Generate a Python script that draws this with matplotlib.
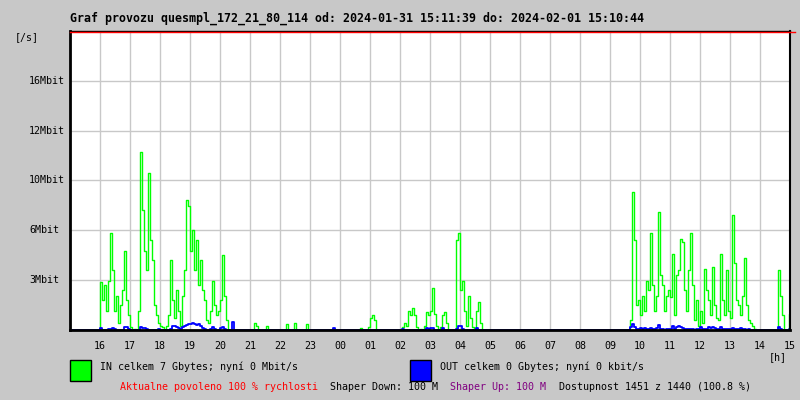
import matplotlib
matplotlib.use('Agg')
import matplotlib.pyplot as plt
from matplotlib import transforms
from matplotlib.patches import Rectangle

# --- data: IN/OUT traffic [Mbit/s], 4 minute samples, bursts of activity
STEP = 4 / 60.0

in_bursts = [
    ("16:00", [3.2, 2.0, 3.0, 1.3, 3.3, 6.5, 4.0, 1.3, 2.3, 0.5, 1.7, 2.7, 5.3, 2.0, 1.0, 0.2,
               0, 0.1, 0, 1.3, 11.9, 8.0, 5.3, 4.0, 10.5, 6.0, 4.7, 1.7, 1.0, 0.5, 0.3, 0.2,
               0, 0.3, 1.0, 4.7, 2.0, 0.8, 2.7, 1.3, 0.3, 2.3, 4.0, 8.7, 8.3, 5.3, 6.7, 4.0,
               6.0, 3.0, 4.7, 2.7, 2.0, 0.7, 0.5, 1.3, 3.3, 1.7, 1.0, 1.3, 2.0, 5.0, 2.3, 0.7, 0]),
    ("21:08", [0.45, 0.3, 0]),
    ("21:32", [0.3, 0]),
    ("22:12", [0.4, 0]),
    ("22:28", [0.45, 0]),
    ("22:52", [0.4, 0]),
    ("00:40", [0.15, 0]),
    ("00:56", [0.2, 0.8, 1.0, 0.65, 0]),
    ("02:00", [0, 0.2, 0.5, 0.3, 1.3, 1.0, 1.5, 1.0, 0.2, 0, 0.1, 0, 0.3, 1.2, 1.0, 1.3,
               2.8, 1.1, 0.3, 0, 0.2, 1.0, 1.2, 0.5, 0, 0, 0, 0, 6.0, 6.5, 2.7, 3.3,
               1.3, 0.3, 2.3, 0.8, 0.2, 0, 1.3, 1.9, 0.5, 0]),
    ("09:40", [0.7, 9.2, 6.0, 1.7, 2.0, 1.0, 2.3, 1.3, 3.3, 2.7, 6.5, 3.0, 1.3, 2.3, 7.9, 3.7,
               3.0, 1.3, 2.3, 2.7, 2.2, 5.1, 1.0, 3.7, 4.0, 6.1, 5.9, 2.7, 1.3, 4.0, 6.5, 3.0,
               0.7, 2.0, 0.3, 1.3, 0.5, 4.1, 2.7, 2.0, 1.0, 4.2, 1.7, 0.8, 0.7, 5.1, 2.0, 1.0,
               4.0, 1.3, 0.8, 7.7, 4.5, 2.0, 1.7, 1.0, 2.3, 4.8, 1.7, 0.7, 0.5, 0.3, 0.1, 0]),
    ("14:32", [0, 4.0, 2.3, 1.0, 0]),
    ("14:58", [1.1, 0]),
]

out_bursts = [
    ("16:00", [0.15, 0, 0, 0, 0.1, 0.1, 0.15, 0.1, 0, 0, 0, 0, 0.2, 0.2, 0.1, 0,
               0, 0, 0, 0, 0.2, 0.15, 0.15, 0.1, 0, 0, 0, 0, 0, 0.05, 0, 0,
               0, 0, 0, 0.1, 0.3, 0.3, 0.2, 0.15, 0.1, 0.2, 0.3, 0.35, 0.4, 0.4, 0.45, 0.4,
               0.35, 0.4, 0.3, 0.15, 0.05, 0, 0, 0.1, 0.2, 0.1, 0, 0, 0.15, 0.2, 0.1, 0,
               0, 0, 0.55, 0]),
    ("23:46", [0.15, 0]),
    ("02:00", [0, 0.1, 0, 0, 0, 0, 0, 0, 0, 0, 0, 0, 0, 0.15, 0.1, 0.15, 0.15, 0, 0, 0,
               0, 0.15, 0, 0, 0, 0, 0, 0, 0.1, 0.3, 0.3, 0.1, 0, 0, 0, 0, 0, 0, 0.15, 0, 0]),
    ("09:40", [0.2, 0.4, 0.2, 0.1, 0.1, 0.15, 0.1, 0.15, 0.1, 0.1, 0.15, 0.1, 0.1, 0.15, 0.35, 0.1,
               0.1, 0, 0.05, 0.1, 0.1, 0.25, 0.1, 0.2, 0.25, 0.2, 0.15, 0.1, 0.05, 0.1, 0.1, 0.05,
               0, 0.05, 0.05, 0.2, 0.1, 0.05, 0.1, 0.2, 0.15, 0.2, 0.15, 0.05, 0.1, 0.2, 0.1, 0.1,
               0.05, 0.05, 0.1, 0.15, 0.1, 0.05, 0.05, 0.15, 0.1, 0.05, 0, 0.05, 0, 0]),
    ("14:32", [0, 0.2, 0.1, 0]),
    ("14:58", [0.1, 0.1, 0.1]),
]

hour_labels = ['16', '17', '18', '19', '20', '21', '22', '23', '00', '01', '02', '03',
               '04', '05', '06', '07', '08', '09', '10', '11', '12', '13', '14', '15']
y_grid = [10 / 3, 20 / 3, 10, 40 / 3, 50 / 3]
y_labels = ['3Mbit', '6Mbit', '10Mbit', '12Mbit', '16Mbit']

title = 'Graf provozu quesmpl_172_21_80_114 od: 2024-01-31 15:11:39 do: 2024-02-01 15:10:44'
in_text = 'IN celkem 7 Gbytes; nyní 0 Mbit/s'
out_text = 'OUT celkem 0 Gbytes; nyní 0 kbit/s'


def to_hours(s):
    h, m = s.split(':')
    v = int(h) + int(m) / 60.0
    return v + 24 if v < 15.19 else v


def series(bursts):
    t, v = [15.0], [0.0]
    for start, vals in bursts:
        t0 = to_hours(start)
        t += [t0 + i * STEP for i in range(len(vals))]
        v += vals
    t.append(39.3)
    v.append(v[-1])
    return t, v


BG = '#c8c8c8'
plt.rcParams['font.family'] = ['DejaVu Sans Mono']

fig = plt.figure(figsize=(8, 4), dpi=100, facecolor=BG)
ax = fig.add_axes([70 / 800, 1 - 330 / 400, 720 / 800, 299 / 400])
ax.set_facecolor('white')

t_in, v_in = series(in_bursts)
t_out, v_out = series(out_bursts)
ax.plot(t_in, v_in, drawstyle='steps-post', color='#00ff00', lw=1.0, zorder=3)
ax.plot(t_out, v_out, drawstyle='steps-post', color='#0000ff', lw=1.3, zorder=4)

ax.set_xlim(15, 39)
ax.set_ylim(0, 20)

hours = list(range(16, 40))
ax.set_xticks(hours)
ax.set_xticklabels(hour_labels, fontsize=7.2)
ax.set_yticks(y_grid)
ax.set_yticklabels([])
ax.tick_params(length=0)
ax.tick_params(axis='x', pad=8)
ax.grid(True, color='#c8c8c8', lw=1, zorder=1)

for s in ['left', 'bottom']:
    ax.spines[s].set_linewidth(2)
ax.spines['right'].set_linewidth(1.5)
ax.spines['top'].set_linewidth(1)
for sp in ax.spines.values():
    sp.set_zorder(5)

# red max line at the top
ax.plot([15, 39.17], [19.93, 19.93], color='red', lw=1, clip_on=False, zorder=6)

trans = transforms.blended_transform_factory(fig.transFigure, ax.transData)
for y, lab in zip(y_grid, y_labels):
    ax.text(29 / 800, y, lab, transform=trans, ha='left', va='center', fontsize=7.2)

def fx(px):
    return px / 800


def fy(py):
    return 1 - py / 400


fig.text(fx(70), fy(18), title, fontsize=8.4, fontweight='bold', va='center')
fig.text(fx(15), fy(37), '[/s]', fontsize=7.2, va='center')
fig.text(fx(778), fy(357), '[h]', fontsize=7.2, va='center', ha='center')

fig.patches.append(Rectangle((fx(70), fy(381)), 21 / 800, 21 / 400, transform=fig.transFigure,
                             facecolor='#00ff00', edgecolor='black', lw=1))
fig.patches.append(Rectangle((fx(410), fy(381)), 21 / 800, 21 / 400, transform=fig.transFigure,
                             facecolor='#0000ff', edgecolor='black', lw=1))
fig.text(fx(100), fy(367), in_text, fontsize=7.2, va='center')
fig.text(fx(440), fy(367), out_text, fontsize=7.2, va='center')

fig.text(fx(120), fy(387), 'Aktualne povoleno 100 % rychlosti', fontsize=7.2, va='center', color='red')
fig.text(fx(330), fy(387), 'Shaper Down: 100 M', fontsize=7.2, va='center', color='black')
fig.text(fx(450), fy(387), 'Shaper Up: 100 M', fontsize=7.2, va='center', color='#800080')
fig.text(fx(559), fy(387), 'Dostupnost 1451 z 1440 (100.8 %)', fontsize=7.2, va='center', color='black')

fig.savefig('out.png', dpi=100, facecolor=BG)
